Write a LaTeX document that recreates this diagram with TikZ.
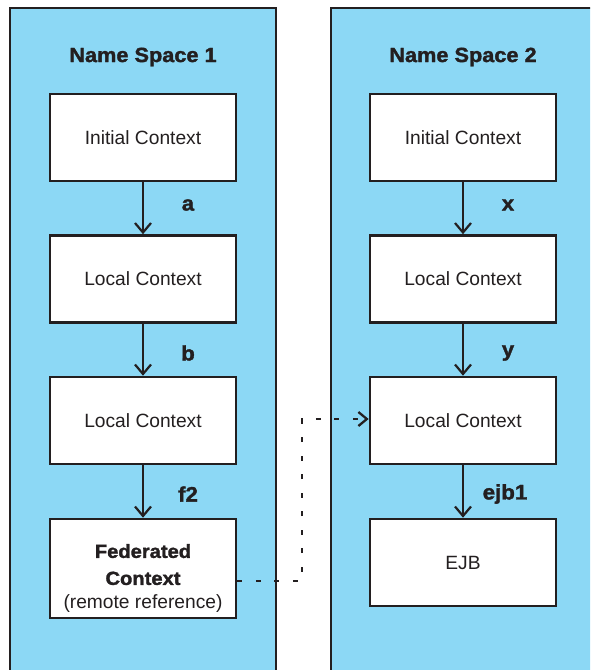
\documentclass[tikz,border=0pt]{standalone}
\usepackage{fontspec}
\setmainfont{Liberation Sans}
\newfontfamily\heavyfont[FakeBold=1.6,FakeStretch=1.06]{Liberation Sans Bold}
\usetikzlibrary{arrows.meta}
\definecolor{panelblue}{RGB}{140,216,245}
\definecolor{ink}{RGB}{35,31,32}
\tikzset{
  panel/.style={fill=panelblue, draw=ink, line width=2.5pt},
  ctxbox/.style={draw=ink, fill=white, line width=2.6pt, minimum width=186pt, minimum height=87pt, inner sep=0pt, align=center, text=ink, font=\fontsize{19.2}{22}\selectfont},
  title/.style={font=\heavyfont\fontsize{20.5}{24}\selectfont, text=ink},
  lbl/.style={font=\heavyfont\fontsize{21}{24}\selectfont, text=ink},
  flow/.style={draw=ink, line width=2.2pt, -{Straight Barb[length=9.5pt,width=16pt]}},
  remote/.style={draw=ink, line width=2.8pt, dash pattern=on 5pt off 13.5pt, -{Straight Barb[length=8.5pt,width=14pt,line width=2.3pt]}}
}
\begin{document}
\begin{tikzpicture}[x=1pt,y=-1pt]
\useasboundingbox (0,0) rectangle (590,670);
\clip (0,0) rectangle (590,670);
% panels
\path[panel] (10,8) rectangle (276,690);
\path[panel] (331,8) rectangle (610,690);
\node[title] (t1) at (143,57) {Name Space 1};
\node[title] (t2) at (463,57) {Name Space 2};
% left column
\node[ctxbox] (l1) at (143,137.5) {Initial Context};
\node[ctxbox] (l2) at (143,279) {Local Context};
\node[ctxbox] (l3) at (143,420.5) {Local Context};
\node[ctxbox, minimum height=99pt, label={[yshift=-10pt, align=center, text=ink, font=\fontsize{19.2}{22}\selectfont]center:{\heavyfont\fontsize{19}{27}\selectfont Federated}\\[5pt]{\heavyfont\fontsize{19}{27}\selectfont Context}\\[2pt](remote reference)}] (l4) at (143,568.5) {};
% right column
\node[ctxbox] (r1) at (463,137.5) {Initial Context};
\node[ctxbox] (r2) at (463,279) {Local Context};
\node[ctxbox] (r3) at (463,420.5) {Local Context};
\node[ctxbox] (r4) at (463,562.5) {EJB};
% arrows
\draw[flow] (l1) -- (l2);
\draw[flow] (l2) -- (l3);
\draw[flow] (l3) -- (l4);
\draw[flow] (r1) -- (r2);
\draw[flow] (r2) -- (r3);
\draw[flow] (r3) -- (r4);
% labels
\node[lbl] (la) at (188,205) {a};
\node[lbl] (lb) at (188,353) {b};
\node[lbl] (lf) at (188,494) {f2};
\node[lbl] (rx) at (508,205) {x};
\node[lbl] (ry) at (508,353) {y};
\node[lbl] (re) at (505,494) {ejb1};
% remote reference connector
\coordinate (c1) at (302,581);
\coordinate (c2) at (302,419);
\draw[remote] (l4.east |- c1) -- (c1) -- (c2) -- (r3.west |- c2);
\end{tikzpicture}
\end{document}
